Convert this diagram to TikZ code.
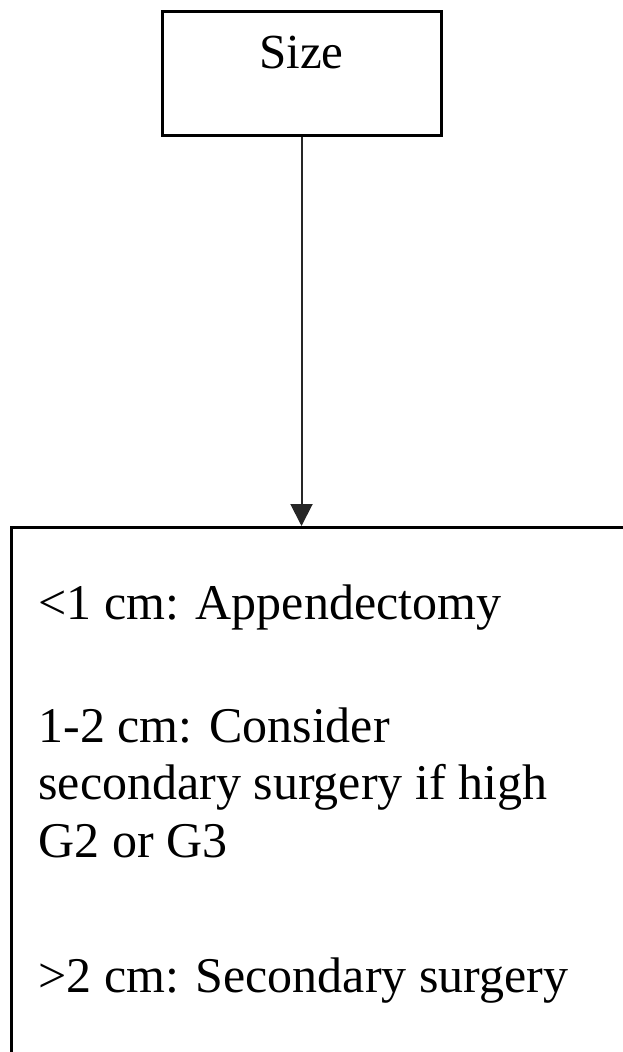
\documentclass[tikz,border=0pt]{standalone}
\usepackage{fontspec}
\setmainfont{Liberation Serif}
\usetikzlibrary{arrows.meta}

\begin{document}
\begin{tikzpicture}[x=0.5pt, y=-0.5pt, >={Triangle[width=11pt, length=11pt]},
    box/.style={draw, line width=1.5pt, inner sep=0pt},
    txt/.style={anchor=base west, inner sep=0pt, align=left,
                font=\fontsize{25pt}{28.75pt}\selectfont}]
  \useasboundingbox (0,0) rectangle (622,1052);

  % Top box
  \node[box, minimum width=139.5pt, minimum height=62pt] (size) at (301.5,74) {};
  \node[txt, anchor=base, font=\fontsize{24.5pt}{28.75pt}\selectfont] (sizetxt) at (301.5,69) {Size};

  % Bottom box, runs off the page
  \node[box, anchor=north west, minimum width=330pt, minimum height=290pt] (advice) at (9.5,526) {};

  % Arrow
  \draw[->, line width=1pt, black!85] (size.south) -- (size.south |- advice.north);

  % Size ranges (base of a multi-line node = its last line)
  \node[txt] (small) at (38,619) {<1 cm: Appendectomy};
  \node[txt] (middle) at (38,857) {1-2 cm: Consider\\secondary surgery if high\\G2 or G3};
  \node[txt] (large) at (38,992) {>2 cm: Secondary surgery};
\end{tikzpicture}
\end{document}
